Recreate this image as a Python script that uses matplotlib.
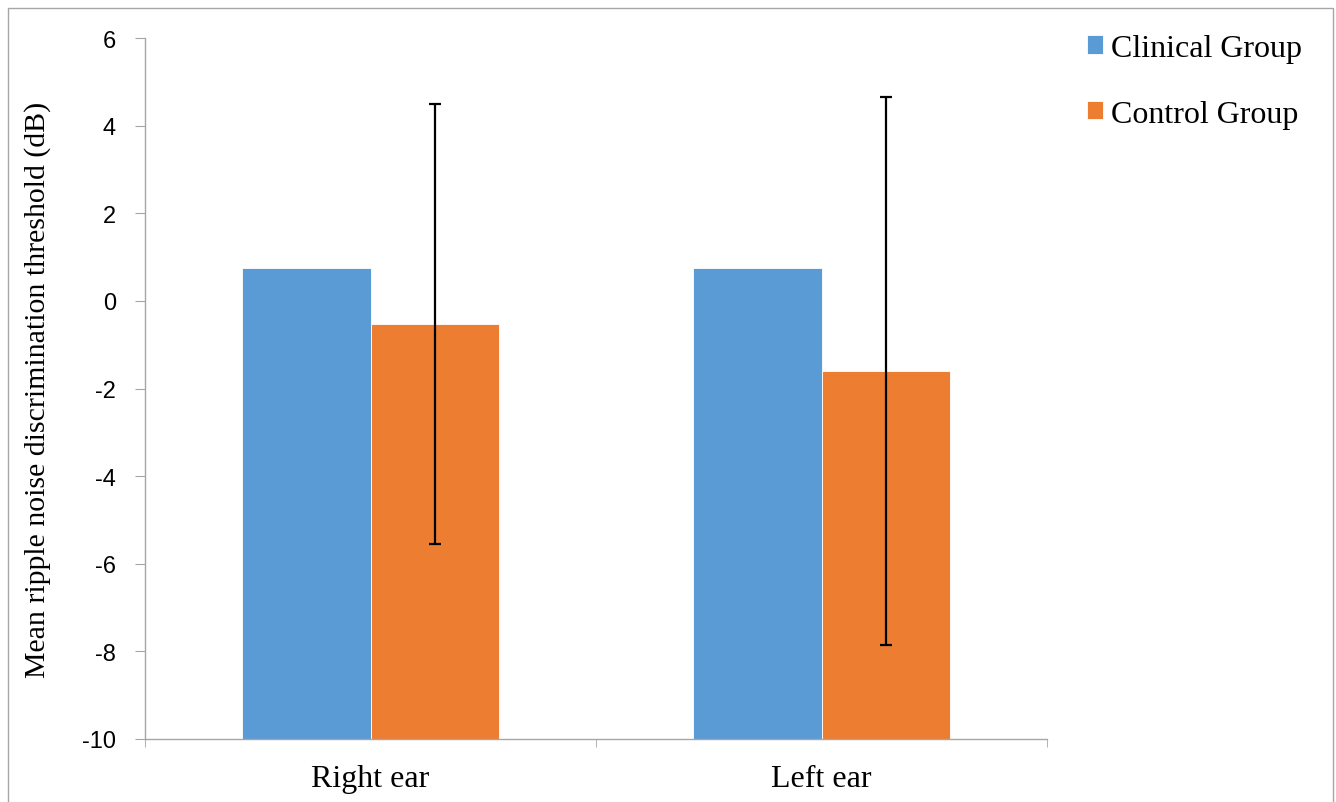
import numpy as np
import matplotlib.pyplot as plt
from matplotlib.patches import Rectangle

plt.rcParams['axes.unicode_minus'] = False

# данные
categories = ['Right ear', 'Left ear']
groups = ['Clinical Group', 'Control Group']
clinical = [0.75, 0.75]
control = [-0.53, -1.6]
control_err = [5.03, 6.25]
y_min, y_max = -10, 6

colors = ['#5B9BD5', '#ED7D31']
serif = 'Liberation Serif'
sans = 'Liberation Sans'

fig = plt.figure(figsize=(13.36, 8.03), dpi=100)
ax = fig.add_axes([145 / 1336, 1 - 740 / 803, 902 / 1336, 701 / 803])

x = np.arange(len(categories))
w = 0.284
ax.bar(x - w / 2, np.array(clinical) - y_min, w, bottom=y_min, color=colors[0],
       edgecolor='white', linewidth=0.6, label=groups[0])
ax.bar(x + w / 2, np.array(control) - y_min, w, bottom=y_min, color=colors[1],
       edgecolor='white', linewidth=0.6, label=groups[1])
ax.errorbar(x + w / 2, control, yerr=control_err, fmt='none', ecolor='black',
            elinewidth=1.6, capsize=4.3, capthick=1.6)

ax.set_xlim(-0.5, 1.5)
ax.set_ylim(y_min, y_max)
ax.set_yticks(np.arange(y_min, y_max + 1, 2))
ax.set_xticks(x)
ax.set_xticklabels(categories, fontfamily=serif, fontsize=23)
ax.set_xticks([-0.5, 0.5, 1.5], minor=True)
ax.tick_params(axis='x', which='major', length=0, pad=18)
ax.tick_params(axis='x', which='minor', length=6, color='#a6a6a6')
ax.tick_params(axis='y', length=7, color='#a6a6a6', labelsize=17, pad=14)
for t in ax.get_yticklabels():
    t.set_fontfamily(sans)

for s in ['top', 'right']:
    ax.spines[s].set_visible(False)
for s in ['left', 'bottom']:
    ax.spines[s].set_color('#a6a6a6')
    ax.spines[s].set_linewidth(1.0)

ax.set_ylabel('Mean ripple noise discrimination threshold (dB)', fontfamily=serif,
              fontsize=21.5, labelpad=22)

ax.legend(loc='upper left', bbox_to_anchor=(1074 / 1336, 1 - 22 / 803),
          bbox_transform=fig.transFigure, frameon=False,
          prop={'family': serif, 'size': 23}, handlelength=0.5, handleheight=0.5,
          handletextpad=0.25, labelspacing=1.15, borderaxespad=0)

fig.patches.append(Rectangle((8 / 1336, -5 / 803), 1325 / 1336, 799 / 803,
                             transform=fig.transFigure, fill=False,
                             edgecolor='#a6a6a6', linewidth=1.0))

fig.savefig('out.png', dpi=100)
